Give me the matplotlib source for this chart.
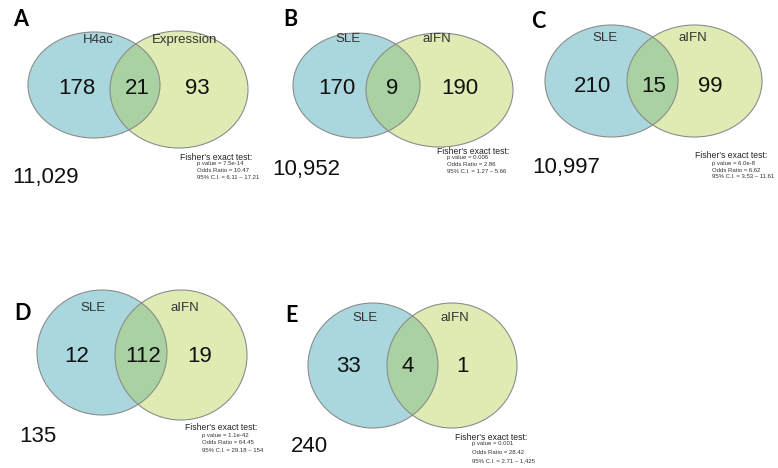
import matplotlib.pyplot as plt
from matplotlib.patches import Ellipse

# data
panel_letters = ["A", "B", "C", "D", "E"]
left_names = ["H4ac", "SLE", "SLE", "SLE", "SLE"]
right_names = ["Expression", "aIFN", "aIFN", "aIFN", "aIFN"]
left_only = [178, 170, 210, 12, 33]
overlap = [21, 9, 15, 112, 4]
right_only = [93, 190, 99, 19, 1]
background = ["11,029", "10,952", "10,997", "135", "240"]
p_values = ["7.5e-14", "0.006", "6.0e-8", "1.1e-42", "0.001"]
odds_ratios = ["10.47", "2.86", "6.62", "64.45", "28.42"]
conf_ints = ["6.11 – 17.21", "1.27 – 5.66", "3.53 – 11.61", "29.18 – 154", "2.71 – 1,425"]

# layout in pixel space (x right, y down)
layout = [
    dict(letter=(13, 20), L=(94, 85, 132, 106), R=(179, 89.5, 138, 117),
         names_y=40, nums=(77, 137, 197), num_y=88, total=(12, 177),
         fisher=(180, 157, 197, 164, 6.7)),
    dict(letter=(283, 20), L=(356.5, 85.5, 127, 105), R=(439.5, 90, 147, 114),
         names_y=39, nums=(337, 392, 460), num_y=88, total=(272, 170),
         fisher=(437, 151, 447, 158, 6.8)),
    dict(letter=(531, 21), L=(611.5, 81, 133, 112), R=(694.5, 81, 135, 112),
         names_y=38, nums=(593, 654, 710), num_y=87, total=(532, 167),
         fisher=(695, 155, 712, 163, 7.0)),
    dict(letter=(14, 313), L=(102, 352.5, 130, 125), R=(181, 355, 132, 130),
         names_y=308, nums=(77, 143, 200), num_y=357, total=(19, 437),
         fisher=(185, 427, 202, 435, 8.0)),
    dict(letter=(285, 315), L=(373, 365.5, 130, 125), R=(452, 365.5, 130, 125),
         names_y=318, nums=(348, 408, 463), num_y=367, total=(291, 447),
         fisher=(455, 437, 472, 444, 8.5)),
]

name_x = [(98, 185), (348, 437), (605, 693), (93, 185), (365, 455)]

left_col = "#aad6de"
right_col = "#deecb4"
both_col = "#a9d1a2"
edge_col = "#8c8c8c"
sans = ["Liberation Sans", "DejaVu Sans"]

fig = plt.figure(figsize=(7.78, 4.68), dpi=100)
ax = fig.add_axes([0, 0, 1, 1])
ax.set_xlim(0, 778)
ax.set_ylim(468, 0)
ax.set_axis_off()

for i, lay in enumerate(layout):
    lx, ly, lw, lh = lay["L"]
    rx, ry, rw, rh = lay["R"]
    left = Ellipse((lx, ly), lw, lh, facecolor=left_col, edgecolor="none", zorder=1)
    right = Ellipse((rx, ry), rw, rh, facecolor=right_col, edgecolor="none", zorder=2)
    ax.add_patch(left)
    ax.add_patch(right)
    both = Ellipse((rx, ry), rw, rh, facecolor=both_col, edgecolor="none", zorder=3)
    ax.add_patch(both)
    both.set_clip_path(left)
    for (cx, cy, w, h) in (lay["L"], lay["R"]):
        ax.add_patch(Ellipse((cx, cy), w, h, facecolor="none",
                             edgecolor=edge_col, linewidth=0.8, zorder=4))

    ax.text(*lay["letter"], panel_letters[i], fontsize=15.5, fontweight="bold",
            family=["Lato", "DejaVu Sans"], ha="left", va="center",
            color="black", zorder=5)
    ax.text(name_x[i][0], lay["names_y"], left_names[i], fontsize=9.5, family=sans,
            ha="center", va="center", color="#333333", zorder=5)
    ax.text(name_x[i][1], lay["names_y"], right_names[i], fontsize=9.5, family=sans,
            ha="center", va="center", color="#333333", zorder=5)
    for x, v in zip(lay["nums"], (left_only[i], overlap[i], right_only[i])):
        ax.text(x, lay["num_y"], str(v), fontsize=16, family=sans,
                ha="center", va="center", color="#111111", zorder=5)
    ax.text(*lay["total"], background[i], fontsize=16, family=sans,
            ha="left", va="center", color="#111111", zorder=5)

    hx, hy, sx, sy, dy = lay["fisher"]
    ax.text(hx, hy, "Fisher's exact test:", fontsize=6.2, family=sans,
            ha="left", va="center", color="#222222", zorder=5)
    lines = [f"p value = {p_values[i]}", f"Odds Ratio = {odds_ratios[i]}",
             f"95% C.I. = {conf_ints[i]}"]
    for k, line in enumerate(lines):
        ax.text(sx, sy + k * dy, line, fontsize=4.3, family=sans,
                ha="left", va="center", color="#333333", zorder=5)

fig.savefig("out.png", dpi=100)
